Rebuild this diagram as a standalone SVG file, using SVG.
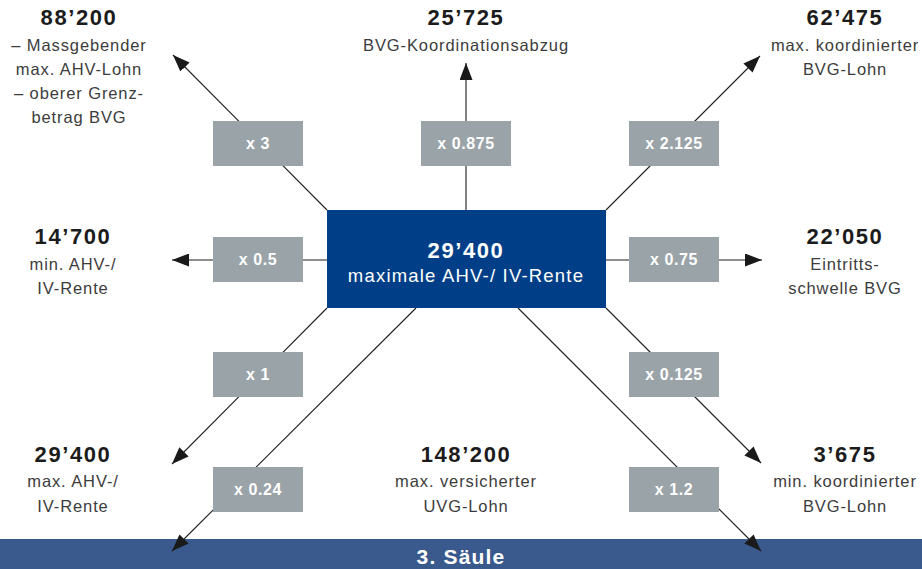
<svg xmlns="http://www.w3.org/2000/svg" width="922" height="569" viewBox="0 0 922 569">
<style>
  text { font-family: "Liberation Sans", Arial, sans-serif; text-anchor: middle; }
  .num { font-size: 22px; font-weight: bold; fill: #1c1c1c; letter-spacing: 1.6px; }
  .sub { font-size: 16.5px; fill: #3c3c3c; letter-spacing: 0.9px; }
  .mul rect { fill: #9aa3a7; }
  .mul text { font-size: 16px; font-weight: bold; fill: #ffffff; letter-spacing: 0.6px; }
  .conn line { stroke: #1e1e1e; stroke-width: 1.1; marker-end: url(#arr); }
  .ctr-num { font-size: 22px; font-weight: bold; fill: #ffffff; letter-spacing: 1.6px; }
  .ctr-sub { font-size: 18.5px; fill: #ffffff; letter-spacing: 1.2px; }
</style>
<defs>
  <marker id="arr" markerUnits="userSpaceOnUse" markerWidth="17" markerHeight="13" refX="17" refY="6.5" orient="auto">
    <path d="M0,0 L17,6.5 L0,13 Z" fill="#1a1a1a"/>
  </marker>
</defs>
<rect width="922" height="569" fill="#ffffff"/>

<g id="band">
  <rect x="0" y="539" width="922" height="30" fill="#3a5a8d"/>
  <text x="461" y="564" style="font-size:21px;font-weight:bold;fill:#ffffff;letter-spacing:1.2px">3. Säule</text>
</g>

<g id="connectors" class="conn">
  <line x1="327" y1="210" x2="173" y2="55"/>
  <line x1="466" y1="210" x2="466" y2="63"/>
  <line x1="606" y1="210" x2="760" y2="56"/>
  <line x1="327" y1="260" x2="172" y2="260"/>
  <line x1="606" y1="260" x2="762" y2="260"/>
  <line x1="327" y1="308" x2="172" y2="464"/>
  <line x1="416" y1="308" x2="172" y2="551"/>
  <line x1="606" y1="308" x2="761" y2="463"/>
  <line x1="518" y1="308" x2="761" y2="551"/>
</g>

<g id="center">
  <rect x="327" y="210" width="279" height="98" fill="#003f87"/>
  <text class="ctr-num" x="466" y="258">29’400</text>
  <text class="ctr-sub" x="466" y="282">maximale AHV-/ IV-Rente</text>
</g>

<g id="m-x3" class="mul"><rect x="213" y="121" width="90" height="45"/><text x="258" y="149">x 3</text></g>
<g id="m-x0875" class="mul"><rect x="421" y="121" width="90" height="45"/><text x="466" y="149">x 0.875</text></g>
<g id="m-x2125" class="mul"><rect x="629" y="121" width="90" height="45"/><text x="674" y="149">x 2.125</text></g>
<g id="m-x05" class="mul"><rect x="213" y="237" width="90" height="45"/><text x="258" y="265">x 0.5</text></g>
<g id="m-x075" class="mul"><rect x="629" y="237" width="90" height="45"/><text x="674" y="265">x 0.75</text></g>
<g id="m-x1" class="mul"><rect x="213" y="352" width="90" height="45"/><text x="258" y="380">x 1</text></g>
<g id="m-x0125" class="mul"><rect x="629" y="352" width="90" height="45"/><text x="674" y="380">x 0.125</text></g>
<g id="m-x024" class="mul"><rect x="213" y="467" width="90" height="45"/><text x="258" y="495">x 0.24</text></g>
<g id="m-x12" class="mul"><rect x="629" y="467" width="90" height="45"/><text x="674" y="495">x 1.2</text></g>

<g id="v-88200">
  <text class="num" x="79" y="25">88’200</text>
  <text class="sub" x="79" y="51">– Massgebender</text>
  <text class="sub" x="79" y="75">max. AHV-Lohn</text>
  <text class="sub" x="79" y="99">– oberer Grenz-</text>
  <text class="sub" x="79" y="123">betrag BVG</text>
</g>
<g id="v-25725">
  <text class="num" x="466" y="25">25’725</text>
  <text class="sub" x="466" y="51">BVG-Koordinationsabzug</text>
</g>
<g id="v-62475">
  <text class="num" x="845" y="25">62’475</text>
  <text class="sub" x="845" y="51">max. koordinierter</text>
  <text class="sub" x="845" y="75">BVG-Lohn</text>
</g>
<g id="v-14700">
  <text class="num" x="73" y="244">14’700</text>
  <text class="sub" x="73" y="270">min. AHV-/</text>
  <text class="sub" x="73" y="294">IV-Rente</text>
</g>
<g id="v-22050">
  <text class="num" x="845" y="244">22’050</text>
  <text class="sub" x="845" y="270">Eintritts-</text>
  <text class="sub" x="845" y="294">schwelle BVG</text>
</g>
<g id="v-29400">
  <text class="num" x="73" y="462">29’400</text>
  <text class="sub" x="73" y="487">max. AHV-/</text>
  <text class="sub" x="73" y="512">IV-Rente</text>
</g>
<g id="v-148200">
  <text class="num" x="466" y="462">148’200</text>
  <text class="sub" x="466" y="487">max. versicherter</text>
  <text class="sub" x="466" y="512">UVG-Lohn</text>
</g>
<g id="v-3675">
  <text class="num" x="845" y="462">3’675</text>
  <text class="sub" x="845" y="487">min. koordinierter</text>
  <text class="sub" x="845" y="512">BVG-Lohn</text>
</g>
</svg>
